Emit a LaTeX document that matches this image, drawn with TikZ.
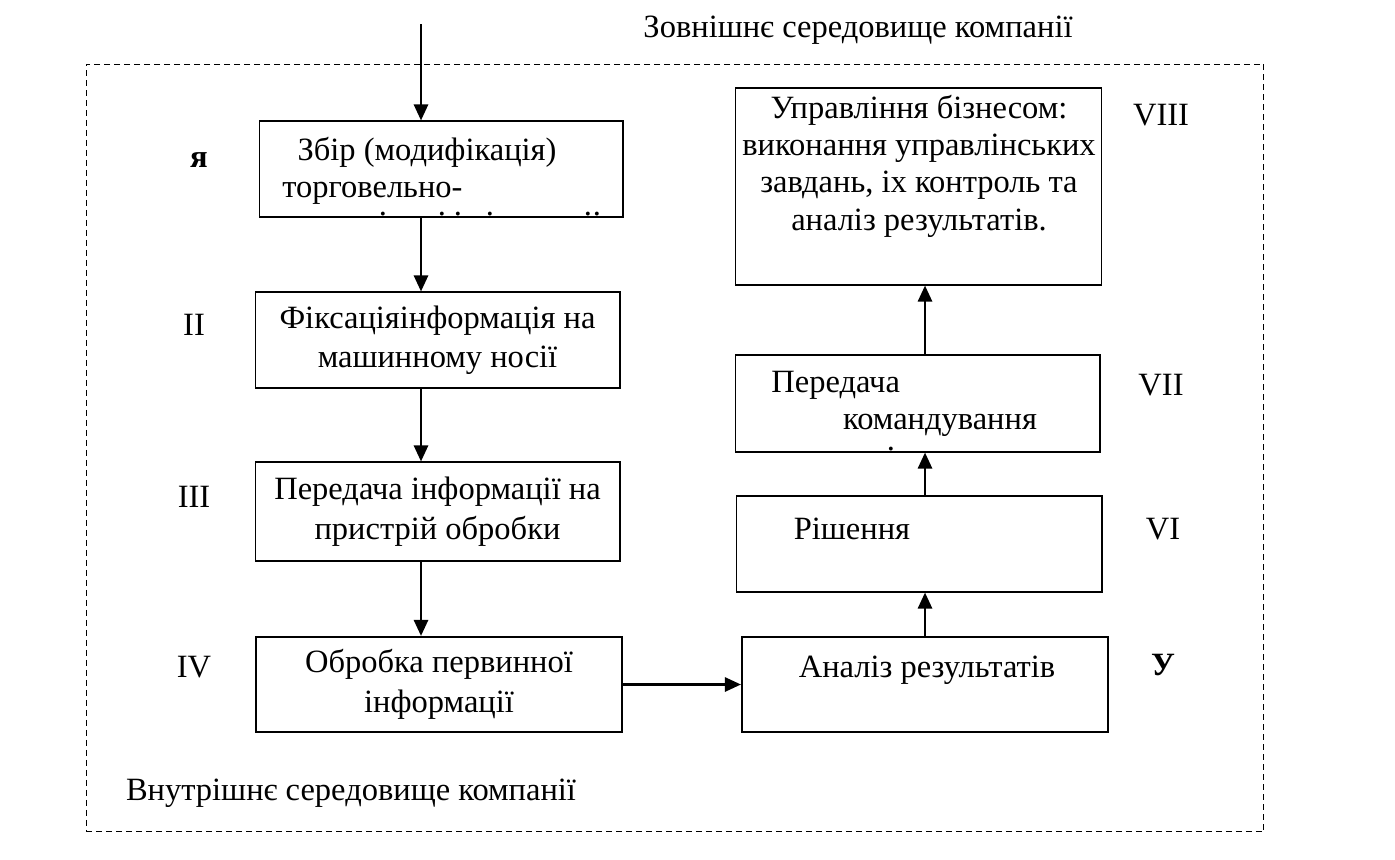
\documentclass[tikz,border=0pt]{standalone}
\usepackage{fontspec}
\setmainfont{Liberation Serif}
\usetikzlibrary{arrows.meta, positioning, calc}

\begin{document}
\begin{tikzpicture}[x=0.02cm, y=-0.02cm,
    every node/.style={font=\fontsize{18.5}{22.5}\selectfont, inner sep=0pt},
    block/.style={draw, line width=0.6pt, minimum width=7.3cm, minimum height=1.92cm, align=center},
    boldblock/.style={block, line width=1.2pt, minimum width=7.32cm, minimum height=1.9cm},
    flow/.style={-{Triangle[length=0.32cm, width=0.28cm]}, line width=1.5pt},
    envelope/.style={draw, line width=0.6pt, dash pattern=on 0.12cm off 0.08cm},
    boldlabel/.style={font=\fontsize{18.5}{22.5}\selectfont\bfseries}]
    \useasboundingbox (0,0) rectangle (1395,859);

    % environment of the company
    \node[envelope, minimum width=23.56cm, minimum height=15.36cm] (company) at (675,448) {};
    \node (outside) at (858,30) {Зовнішнє середовище компанії};
    \node (inside) at (351,793) {Внутрішнє середовище компанії};

    % left column
    \node[block, minimum width=7.28cm] (box1) at (441,169) {};
    \node (collect) at (427,152) {Збір (модифікація)};
    \node[anchor=west] (trade) at (282,193) {торговельно-};
    \foreach \x in {383,442,458,490,588,597}
        \node[anchor=base] at (\x,215) {.};
    \node[block] (box2) at (437.5,340) {Фіксаціяінформація на\\машинному носії};
    \node[block, minimum height=1.98cm] (box3) at (437.5,511.5) {Передача інформації на\\пристрій обробки};
    \node[boldblock] (box4) at (439,684.5) {Обробка первинної\\інформації};

    % right column
    \node[boldblock] (box5) at (925,684.5) {};
    \node (analysis) at (927,670) {Аналіз результатів};
    \node[block, minimum width=7.32cm] (box6) at (919,544) {};
    \node (decision) at (852,529) {Рішення};
    \node[block, minimum height=1.94cm] (box7) at (917.5,403.5) {};
    \node[anchor=west] (transfer) at (771,385) {Передача};
    \node (command) at (940,425) {командування};
    \node[anchor=base] at (891,450) {.};
    \node[block, minimum width=7.32cm, minimum height=3.94cm] (box8) at (918.5,186.5) {};
    \node[align=center, font=\fontsize{18.5}{21.2}\selectfont] (manage) at (919,166)
        {Управління бізнесом:\\виконання управлінських\\завдань, іх контроль та\\аналіз результатів.};

    % stage numbers
    \node[boldlabel] (n1) at (199,160) {я};
    \node (n2) at (194,325) {II};
    \node (n3) at (194,497) {III};
    \node (n4) at (194,667) {IV};
    \node[boldlabel] (n5) at (1163,665) {У};
    \node (n6) at (1163,529) {VI};
    \node (n7) at (1161,385) {VII};
    \node (n8) at (1161,115) {VIII};

    % arrows
    \coordinate (input) at (421,24);
    \draw[flow] (input) -- (input |- box1.north);
    \draw[flow] (input |- box1.south) -- (input |- box2.north);
    \draw[flow] (input |- box2.south) -- (input |- box3.north);
    \draw[flow] (input |- box3.south) -- (input |- box4.north);
    \draw[flow] (box4.east) -- (box5.west);
    \draw[flow] (box5.north) -- (box5.north |- box6.south);
    \draw[flow] (box5.north |- box6.north) -- (box5.north |- box7.south);
    \draw[flow] (box5.north |- box7.north) -- (box5.north |- box8.south);
\end{tikzpicture}
\end{document}
